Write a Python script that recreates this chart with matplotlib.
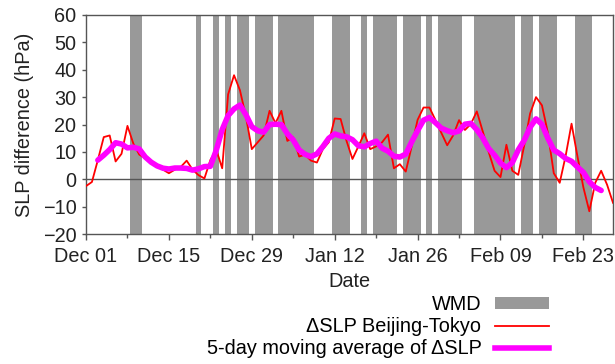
import matplotlib
matplotlib.use("Agg")
import matplotlib.pyplot as plt
import matplotlib.dates as mdates
import pandas as pd
import numpy as np
from matplotlib.patches import Patch
from matplotlib.lines import Line2D

plt.rcParams['font.family'] = ['Liberation Sans', 'DejaVu Sans']

# ---- data ----
start_date = "2012-12-01"
n_days = 90
dates = pd.date_range(start_date, periods=n_days, freq="D")

slp_diff = [-2.5, -1, 7, 15.4, 16, 6.5, 9.3, 19.5, 13, 9,
            7.7, 6, 5, 3.5, 2.2, 3.5, 4.5, 6.8, 3.5, 1.5,
            0.3, 7, 10.8, 4, 31, 38, 32.5, 23, 11, 13.5,
            16, 25, 20.5, 25, 14, 15.3, 8.3, 9, 6.8, 6.1,
            11, 13.5, 22.2, 22, 14, 7.4, 12, 16.8, 11, 12,
            13.5, 16.3, 4, 5.5, 2.8, 12, 21.7, 26.2, 26.2, 21.7,
            17, 12.4, 16, 21.6, 18, 20.2, 24.8, 17.5, 10, 3.1,
            0.8, 12.6, 3.1, 1.6, 12.3, 24, 30, 27, 17, 2.2,
            -1.3, 8.5, 20.3, 8.3, -3, -11.7, -1.3, 3.1, -2, -8.6]

# day indices (0 = Dec 01) flagged as WMD
wmd_days = [8, 9, 19, 22, 24, 26, 27, 29, 30, 31, 33, 34, 35, 36, 37, 38,
            42, 43, 44, 47, 49, 50, 51, 52, 54, 55, 56, 58, 60, 61, 62, 63,
            66, 67, 68, 69, 70, 71, 72, 74, 75, 77, 78, 79, 83, 84, 85]

y_ticks = [-20, -10, 0, 10, 20, 30, 40, 50, 60]

slp = pd.Series(slp_diff, index=dates)
slp_ma5 = slp.rolling(5, center=True).mean()

# ---- figure ----
fig = plt.figure(figsize=(6.15, 3.64), dpi=100)
ax = fig.add_axes([86/615, 1-234/364, (613-86)/615, (234-15)/364])

wmd_dates = dates[wmd_days]
ax.bar(wmd_dates, [80]*len(wmd_dates), bottom=-20, width=1.0,
       color='#999999', linewidth=0, zorder=1)
ax.axhline(0, color='#555555', lw=1.0, zorder=2)
ax.plot(dates, slp.values, color='#ff0000', lw=1.3, zorder=3)
ax.plot(dates, slp_ma5.values, color='#ff00ff', lw=4.0, zorder=4,
        solid_capstyle='round')

ax.set_xlim(dates[0], dates[-1])
ax.set_ylim(-20, 60)
ax.set_yticks(y_ticks)

major = pd.date_range(start_date, periods=7, freq="14D")
minor = pd.date_range(start_date, periods=13, freq="7D")
ax.set_xticks(major)
ax.set_xticks(minor, minor=True)
ax.xaxis.set_major_formatter(mdates.DateFormatter('%b %d'))

fs = 14.3
ax.tick_params(axis='x', which='major', length=4, width=1, color='#555555',
               pad=5, labelsize=fs, labelcolor='#222222')
ax.tick_params(axis='x', which='minor', length=3, width=1, color='#555555')
ax.tick_params(axis='y', length=3, width=1, color='#555555', pad=4,
               labelsize=fs, labelcolor='#222222')
for s in ax.spines.values():
    s.set_color('#555555')
    s.set_linewidth(1.0)

ax.set_xlabel('Date', fontsize=fs, color='#222222', labelpad=5)
ax.set_ylabel('SLP difference (hPa)', fontsize=fs, color='#222222', labelpad=6)

handles = [Patch(facecolor='#999999', edgecolor='none'),
           Line2D([], [], color='#ff0000', lw=1.3),
           Line2D([], [], color='#ff00ff', lw=4.0)]
labels = ['WMD', 'ΔSLP Beijing-Tokyo', '5-day moving average of ΔSLP']
fig.legend(handles, labels, loc='upper right',
           bbox_to_anchor=(549/615, 1-295/364), markerfirst=False,
           frameon=False, fontsize=fs, handlelength=2.7, handleheight=0.5,
           handletextpad=0.7, labelspacing=0.15, borderpad=0, borderaxespad=0)

fig.savefig('out.png', dpi=100)
